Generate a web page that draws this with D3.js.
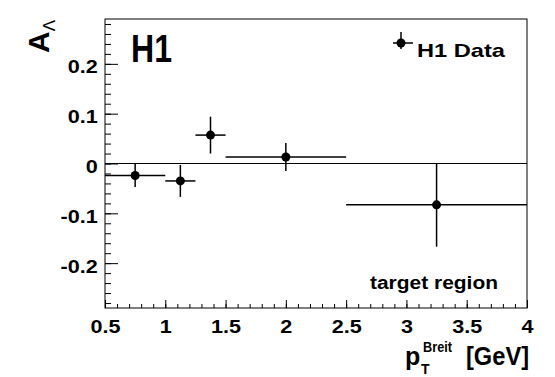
<!DOCTYPE html>
<html lang="en">
<head>
  <meta charset="utf-8">
  <title>H1 A_Lambda vs pT Breit</title>
  <script src="https://d3js.org/d3.v7.min.js"></script>
  <style>
    body { margin: 0; background: #fff; }
    text { font-family: "Liberation Sans", Arial, sans-serif; font-weight: bold; }
  </style>
</head>
<body>
  <svg width=555 height=377></svg>
  <script>
    // data
    const xVals = [0.75, 1.125, 1.375, 2.0, 3.25];
    const xLo   = [0.5, 1.0, 1.25, 1.5, 2.5];
    const xHi   = [1.0, 1.25, 1.5, 2.5, 4.0];
    const yVals = [-0.024, -0.035, 0.057, 0.013, -0.083];
    const yErr  = [0.023, 0.032, 0.037, 0.028, 0.084];

    const xTicks = [0.5, 1, 1.5, 2, 2.5, 3, 3.5, 4];
    const yTicks = [-0.2, -0.1, 0, 0.1, 0.2];

    const points = xVals.map((d, i) => ({x: d, lo: xLo[i], hi: xHi[i], y: yVals[i], e: yErr[i]}));

    const svg = d3.select("svg");
    const padL = 105, padR = 527, padT = 19, padB = 308;

    const x = d3.scaleLinear().domain([0.5, 4]).range([padL, padR]);
    const y = d3.scaleLinear().domain([-0.29, 0.29]).range([padB, padT]);

    // minor ticks
    const xMinor = d3.range(5, 41).map(d => d / 10);
    const yMinor = d3.range(-14, 15).map(d => d / 50);

    svg.append("g")
       .attr("transform", `translate(0,${padB})`)
       .call(d3.axisBottom(x).tickValues(xMinor).tickSize(-4).tickFormat(""))
       .call(g => g.select(".domain").remove());
    svg.append("g")
       .attr("transform", `translate(0,${padB})`)
       .call(d3.axisBottom(x).tickValues(xTicks).tickSize(-8).tickPadding(12)
             .tickFormat(d => String(d)))
       .call(g => g.select(".domain").remove())
       .call(g => g.selectAll("text").attr("font-size", 18).attr("font-family", null)
                   .attr("dy", "0.71em").attr("transform", "scale(1.2,1)"));

    svg.append("g")
       .attr("transform", `translate(${padL},0)`)
       .call(d3.axisLeft(y).tickValues(yMinor).tickSize(-6).tickFormat(""))
       .call(g => g.select(".domain").remove());
    svg.append("g")
       .attr("transform", `translate(${padL},0)`)
       .call(d3.axisLeft(y).tickValues(yTicks).tickSize(-13).tickPadding(6)
             .tickFormat(d => String(d)))
       .call(g => g.select(".domain").remove())
       .call(g => g.selectAll("text").attr("font-size", 18).attr("font-family", null)
                   .attr("dy", "0.5em").attr("transform", "scale(1.2,1)"));

    svg.selectAll(".tick line").attr("stroke", "#000");

    // frame
    svg.append("rect")
       .attr("x", padL).attr("y", padT)
       .attr("width", padR - padL).attr("height", padB - padT)
       .attr("fill", "none").attr("stroke", "#000").attr("stroke-width", 1);

    // zero line
    svg.append("line")
       .attr("x1", padL).attr("x2", padR)
       .attr("y1", y(0)).attr("y2", y(0))
       .attr("stroke", "#000").attr("stroke-width", 1);

    // error bars and markers
    const pts = svg.append("g");
    pts.selectAll(".hbar").data(points).enter().append("line")
       .attr("x1", d => x(d.lo)).attr("x2", d => x(d.hi))
       .attr("y1", d => y(d.y)).attr("y2", d => y(d.y))
       .attr("stroke", "#000").attr("stroke-width", 1.5);
    pts.selectAll(".vbar").data(points).enter().append("line")
       .attr("x1", d => x(d.x)).attr("x2", d => x(d.x))
       .attr("y1", d => y(d.y - d.e)).attr("y2", d => y(d.y + d.e))
       .attr("stroke", "#000").attr("stroke-width", 1.5);
    pts.selectAll("circle").data(points).enter().append("circle")
       .attr("cx", d => x(d.x)).attr("cy", d => y(d.y))
       .attr("r", 4.5).attr("fill", "#000");

    // H1 label
    svg.append("text").attr("x", 131).attr("y", 62)
       .attr("font-size", 38).attr("textLength", 41).attr("lengthAdjust", "spacingAndGlyphs")
       .text("H1");

    // legend
    const lx = 401, ly = 43;
    svg.append("line").attr("x1", lx - 8).attr("x2", lx + 12).attr("y1", ly).attr("y2", ly)
       .attr("stroke", "#000").attr("stroke-width", 1.5);
    svg.append("line").attr("x1", lx).attr("x2", lx).attr("y1", ly - 11).attr("y2", ly + 6)
       .attr("stroke", "#000").attr("stroke-width", 1.5);
    svg.append("circle").attr("cx", lx).attr("cy", ly).attr("r", 4.5).attr("fill", "#000");
    svg.append("text").attr("x", 417).attr("y", 57).attr("font-size", 19)
       .attr("textLength", 88).attr("lengthAdjust", "spacingAndGlyphs").text("H1 Data");

    // target region
    svg.append("text").attr("x", 370).attr("y", 289).attr("font-size", 18)
       .attr("textLength", 128).attr("lengthAdjust", "spacingAndGlyphs").text("target region");

    // x title
    svg.append("text").attr("x", 405).attr("y", 365).attr("font-size", 25).text("p");
    svg.append("text").attr("x", 423).attr("y", 352).attr("font-size", 14)
       .attr("textLength", 29).attr("lengthAdjust", "spacingAndGlyphs").text("Breit");
    svg.append("text").attr("x", 421).attr("y", 374).attr("font-size", 14).text("T");
    svg.append("text").attr("x", 466).attr("y", 365).attr("font-size", 26)
       .attr("textLength", 63).attr("lengthAdjust", "spacingAndGlyphs").text("[GeV]");

    // y title
    const yt = svg.append("text").attr("transform", "translate(49,53) rotate(-90)")
       .attr("font-size", 30);
    yt.append("tspan").text("A");
    yt.append("tspan").attr("font-size", 17).attr("dy", 6).attr("font-weight", "normal").text("Λ");
  </script>
</body>
</html>
